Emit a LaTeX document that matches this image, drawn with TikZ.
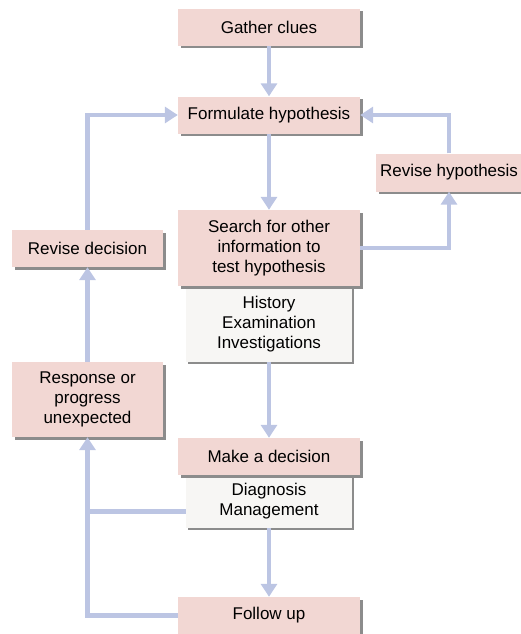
\documentclass[tikz,border=0pt]{standalone}
\usepackage{fontspec}
\setmainfont{Liberation Sans}
\usetikzlibrary{arrows.meta, shadows, positioning}
\definecolor{boxpink}{HTML}{F2D7D3}
\definecolor{boxgrey}{HTML}{F7F6F4}
\definecolor{flowblue}{HTML}{BCC5E3}
\definecolor{shadowgrey}{HTML}{8C8C8C}
\tikzset{
  step box/.style={
    fill=boxpink,
    inner sep=0pt,
    align=center,
    minimum height=37pt,
    font=\fontsize{17}{20}\selectfont,
    drop shadow={shadow xshift=2.5pt, shadow yshift=-2.5pt,
      fill=shadowgrey, opacity=1}
  },
  note box/.style={
    fill=boxgrey,
    inner sep=0pt,
    align=center,
    minimum width=166pt,
    font=\fontsize{17}{20}\selectfont,
    drop shadow={shadow xshift=1.5pt, shadow yshift=-1.5pt,
      fill=shadowgrey, opacity=1}
  },
  flow/.style={
    -{Triangle[width=16pt,length=13pt]},
    line width=4.5pt,
    color=flowblue
  },
  flow line/.style={
    -,
    line width=4.5pt,
    color=flowblue
  }
}

\begin{document}
\begin{tikzpicture}[x=1pt, y=-1pt]
    \useasboundingbox (0,0) rectangle (521,634);

    % middle column
    \node[step box, minimum width=182pt] (gather) at (269,27.5) {Gather clues};
    \node[step box, minimum width=182pt] (formulate) at (269,115) {Formulate hypothesis};
    \node[note box, minimum height=76pt] (history) at (269,324) {History\\Examination\\Investigations};
    \node[step box, minimum width=182pt, minimum height=76pt] (search) at (269,248)
      {Search for other\\information to\\test hypothesis};
    \node[note box, minimum height=53pt] (diagnosis) at (269,501.5) {Diagnosis\\Management};
    \node[step box, minimum width=182pt] (decision) at (269,456.5) {Make a decision};
    \node[step box, minimum width=182pt] (followup) at (269,615.5) {Follow up};

    % side boxes
    \node[step box, minimum width=146pt, minimum height=38pt] (revhyp) at (449,172.5) {Revise hypothesis};
    \node[step box, minimum width=151pt] (revdec) at (87.5,248.5) {Revise decision};
    \node[step box, minimum width=151pt, minimum height=75pt] (response) at (87.5,399.5)
      {Response or\\progress\\unexpected};

    % main flow
    \draw[flow] (gather) -- (formulate);
    \draw[flow] (formulate) -- (search);
    \draw[flow] (history) -- (decision);
    \draw[flow] (diagnosis) -- (followup);

    % right loop
    \draw[flow] (search.east) -| (revhyp.south);
    \draw[flow] (revhyp.north) |- (formulate.east);

    % left loop
    \draw[flow] (followup.west) -| (response.south);
    \draw[flow line] ([yshift=-10pt]diagnosis.west) -- ([yshift=-10pt]diagnosis.west -| response.south);
    \draw[flow] (response.north) -- (revdec.south);
    \draw[flow] (revdec.north) |- (formulate.west);

  \end{tikzpicture}
\end{document}
